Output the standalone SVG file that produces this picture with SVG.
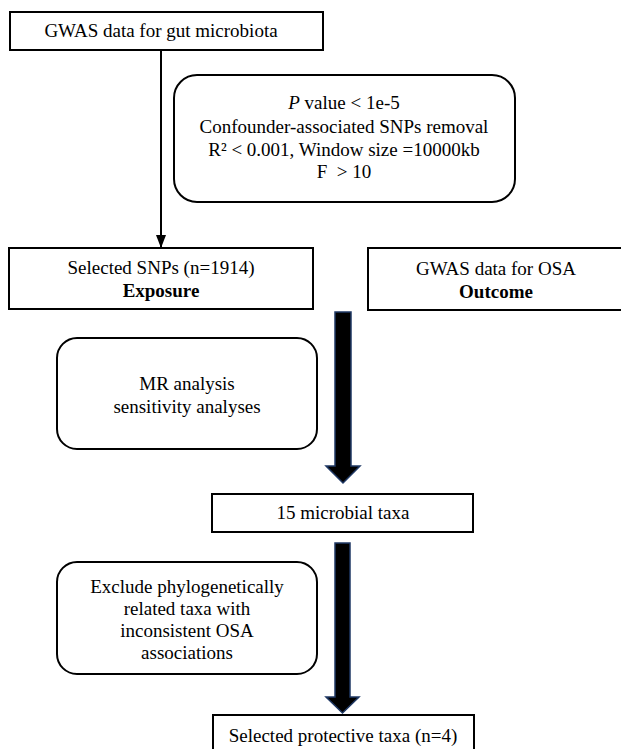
<svg xmlns="http://www.w3.org/2000/svg" width="621" height="749" viewBox="0 0 621 749">
  <defs>
    <style>
      .box{fill:#fff;stroke:#000;stroke-width:2}
      .t{font-family:"Liberation Serif","Times New Roman",serif;font-size:19px;fill:#000;text-anchor:middle}
      .b{font-weight:bold}
      .big{fill:#000;stroke:#1f3864;stroke-width:1.5;stroke-linejoin:miter}
      .ln{stroke:#000;stroke-width:2;fill:none}
    </style>
    <marker id="ah" viewBox="0 0 13 10" refX="13" refY="5" markerWidth="6.5" markerHeight="5" markerUnits="strokeWidth" orient="auto">
      <path d="M0,0 L13,5 L0,10 z" fill="#000"/>
    </marker>
  </defs>
  <rect width="621" height="749" fill="#fff"/>

  <g id="connectors">
    <line class="ln" x1="161" y1="50" x2="161" y2="248" marker-end="url(#ah)"/>
    <path class="big" d="M335,312 L351,312 L351,466 L360,466 L343,483 L326,466 L335,466 Z"/>
    <path class="big" d="M335,543 L350,543 L350,697 L359,697 L342.5,713 L326,697 L335,697 Z"/>
  </g>

  <g id="gwas-gut">
    <rect class="box" x="10" y="12" width="313" height="38"/>
    <text class="t" x="161" y="37">GWAS data for gut microbiota</text>
  </g>

  <g id="criteria">
    <rect class="box" x="174" y="75" width="341" height="127" rx="23" ry="23"/>
    <text class="t" x="344" y="109"><tspan font-style="italic">P</tspan> value &lt; 1e-5</text>
    <text class="t" x="344" y="133">Confounder-associated SNPs removal</text>
    <text class="t" x="344" y="156">R² &lt; 0.001, Window size =10000kb</text>
    <text class="t" x="344" y="178">F&#160; &gt; 10</text>
  </g>

  <g id="selected-snps">
    <rect class="box" x="9" y="248" width="304" height="61"/>
    <text class="t" x="161" y="274">Selected SNPs (n=1914)</text>
    <text class="t b" x="161" y="297">Exposure</text>
  </g>

  <g id="gwas-osa">
    <rect class="box" x="368" y="248" width="258" height="62"/>
    <text class="t" x="496" y="275">GWAS data for OSA</text>
    <text class="t b" x="496" y="298">Outcome</text>
  </g>

  <g id="mr-analysis">
    <rect class="box" x="57" y="338" width="260" height="111" rx="20" ry="20"/>
    <text class="t" x="187" y="390">MR analysis</text>
    <text class="t" x="187" y="413">sensitivity analyses</text>
  </g>

  <g id="taxa15">
    <rect class="box" x="212" y="494" width="261" height="38"/>
    <text class="t" x="343" y="519">15 microbial taxa</text>
  </g>

  <g id="exclude">
    <rect class="box" x="57" y="562" width="260" height="112" rx="20" ry="20"/>
    <text class="t" x="187" y="593">Exclude phylogenetically</text>
    <text class="t" x="187" y="615">related taxa with</text>
    <text class="t" x="187" y="637">inconsistent OSA</text>
    <text class="t" x="187" y="659">associations</text>
  </g>

  <g id="protective">
    <rect class="box" x="213" y="715" width="261" height="45"/>
    <text class="t" x="343" y="742">Selected protective taxa (n=4)</text>
  </g>
</svg>
